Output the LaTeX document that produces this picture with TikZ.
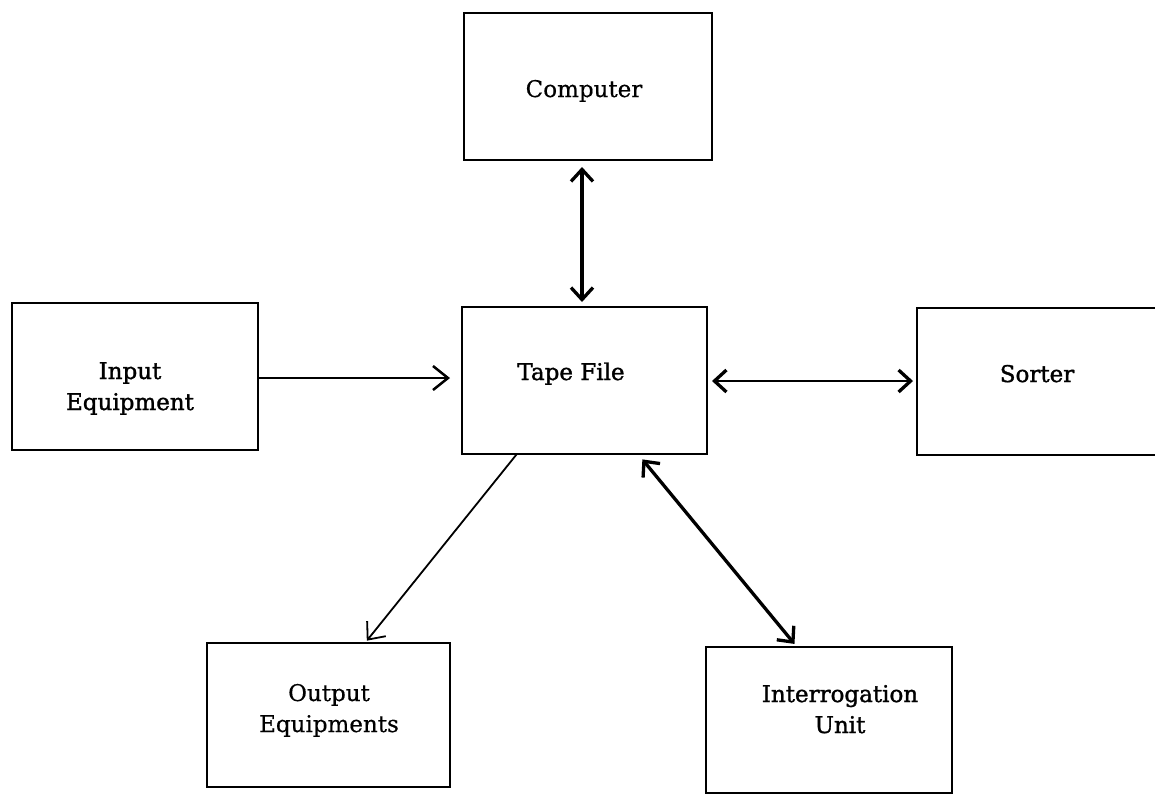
\documentclass[tikz,border=0pt]{standalone}
\usepackage{fontspec}
\setmainfont[FakeBold=0.5]{DejaVu Serif}
\newfontfamily\heavyfont[FakeBold=1.4]{DejaVu Serif}
\usetikzlibrary{arrows.meta,calc}
% text placed inside a box: #1 = horizontal offset of its centre, #2 = raise of the last baseline above the box centre
\newcommand\bt[3]{\makebox[0pt]{\hspace*{#1}\hspace*{#1}\raisebox{#2}[0pt][0pt]{\begin{tabular}[b]{@{}c@{}}#3\end{tabular}}}}
\tikzset{
  blockbox/.style={draw, line width=2.7pt, rectangle, inner sep=0pt, outer sep=0pt,
    minimum width=246pt, minimum height=147pt, font=\fontsize{23}{31}\selectfont},
  heavy/.style={font=\heavyfont\fontsize{23}{31}\selectfont},
  thinlink/.style={line width=1.8pt, -{Straight Barb[length=14pt,width=24pt,line width=1.8pt]}},
  medlink/.style={line width=2.5pt, -{Straight Barb[length=15pt,width=24pt,line width=2.5pt]}},
  duallink/.style={line width=3.3pt, {Straight Barb[length=12pt,width=22pt,line width=3.3pt]}-{Straight Barb[length=12pt,width=22pt,line width=3.3pt]}},
}
\begin{document}
\begin{tikzpicture}[x=1pt,y=-1pt]
\useasboundingbox (0,0) rectangle (1155,795);
\clip (0,0) rectangle (1155,795);
\node[blockbox, minimum width=248pt] (comp) at (588,86.5) {\bt{-4pt}{-10.5pt}{Computer}};
\node[blockbox, heavy, minimum width=245pt] (tape) at (584.5,380.5) {\bt{-13.5pt}{0.5pt}{Tape File}};
\node[blockbox, heavy] (input) at (135,376.5) {\bt{-5pt}{-33.5pt}{Input\\Equipment}};
\node[blockbox, heavy, minimum width=243pt] (sorter) at (1038.5,381.5) {\bt{-1.5pt}{-0.5pt}{Sorter}};
\node[blockbox, minimum width=243pt, minimum height=144pt] (output) at (328.5,715) {\bt{0.5pt}{-17pt}{Output\\Equipments}};
\node[blockbox, heavy, minimum height=146pt] (interr) at (829,720) {\bt{11pt}{-13pt}{Interrogation\\Unit}};
% connectors
\draw[duallink, shorten <=7pt, shorten >=5pt] ([xshift=-6pt]comp.south) -- ([xshift=-2.5pt]tape.north);
\draw[medlink, shorten >=12pt] ([yshift=-1.5pt]input.east) -- ([yshift=-1.5pt]input.east -| tape.west);
\draw[duallink, line width=2.8pt, shorten <=5pt, shorten >=4pt] ([yshift=-0.5pt]tape.east) -- ([yshift=-0.5pt]tape.east -| sorter.west);
\draw[thinlink, shorten >=3pt] ($(tape.south west)!0.224!(tape.south east)$) -- ($(output.north west)!0.65!(output.north east)$);
\draw[duallink, shorten <=7pt, shorten >=4pt] ($(tape.south west)!0.718!(tape.south east)$) -- ($(interr.north west)!0.37!(interr.north east)$);
\end{tikzpicture}
\end{document}
